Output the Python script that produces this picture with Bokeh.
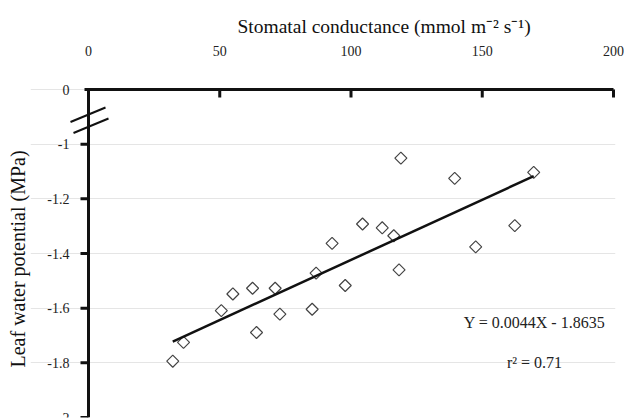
import numpy as np
from bokeh.plotting import figure
from bokeh.models import FixedTicker, Range1d, Label, Title
from bokeh.core.properties import value
from bokeh.embed import file_html
from bokeh.resources import INLINE

# ---- data ----
conductance = [32.1, 36.2, 50.6, 55.0, 62.5, 64.0, 71.1, 72.9, 85.2, 86.7, 92.8,
               97.8, 104.4, 111.9, 116.3, 118.3, 119.0, 139.5, 147.5, 162.4, 169.6]
potential = [-1.794, -1.725, -1.609, -1.548, -1.527, -1.689, -1.527, -1.622, -1.604,
             -1.472, -1.363, -1.517, -1.292, -1.306, -1.335, -1.460, -1.051, -1.125,
             -1.376, -1.298, -1.103]
slope = 0.0044
intercept = -1.8635

x_ticks = [0, 50, 100, 150, 200]
y_ticks = [-2, -1.8, -1.6, -1.4, -1.2, -1, -0.8]
y_tick_labels = ["-2", "-1.8", "-1.6", "-1.4", "-1.2", "-1", "0"]

x_title = "Stomatal conductance (mmol m\u207b\u00b2 s\u207b\u00b9)"
y_title = "Leaf water potential (MPa)"
eq_text = "Y = 0.0044X - 1.8635"
r2_text = "r\u00b2 = 0.71"

# ---- layout (pixels) ----
W, H = 624, 420
FRAME_L, FRAME_R, FRAME_T, FRAME_B = 30, 615, 84, 417
AXIS_X0, AXIS_X1 = 88, 613      # pixel of x = 0 and x = 200
AXIS_YTOP = 89                  # pixel of the top value (-0.8, labelled 0)
X0, X1 = 0, 200
Y0, Y1 = -2, -0.8
ppx = (AXIS_X1 - AXIS_X0) / (X1 - X0)
ppy = (FRAME_B - AXIS_YTOP) / (Y1 - Y0)


def dx(px):
    return X0 + (px - AXIS_X0) / ppx


def dy(py):
    return Y1 - (py - AXIS_YTOP) / ppy


SERIF = "Liberation Serif"
INK = "#111111"

p = figure(width=W, height=H,
           x_range=Range1d(dx(FRAME_L), dx(FRAME_R)),
           y_range=Range1d(dy(FRAME_B), dy(FRAME_T)),
           x_axis_location="above", y_axis_location=None,
           output_backend="svg", toolbar_location=None,
           min_border_left=FRAME_L, min_border_right=W - FRAME_R,
           min_border_top=FRAME_T, min_border_bottom=H - FRAME_B,
           title=x_title)
p.outline_line_color = None
p.xgrid.visible = False
p.background_fill_color = "white"
p.border_fill_color = "white"

p.title.text_font = SERIF
p.title.text_font_size = "19.5px"
p.title.text_font_style = "normal"
p.title.text_color = INK
p.title.align = "left"
p.title.offset = 237 - FRAME_L
p.title.standoff = 12

# top axis: tick labels from the library axis
xa = p.xaxis[0]
xa.ticker = FixedTicker(ticks=x_ticks)
xa.axis_line_color = None
xa.major_tick_line_color = None
xa.minor_tick_line_color = None
xa.major_tick_in = 0
xa.major_tick_out = 0
xa.major_label_standoff = 29
xa.major_label_text_font = SERIF
xa.major_label_text_font_size = "14px"
xa.major_label_text_color = "#222222"

# y title on the left
p.add_layout(Title(text=y_title, align="left", offset=FRAME_B - 367, standoff=3,
                   text_font=SERIF, text_font_size="20px", text_font_style="normal",
                   text_color=INK), "left")

# top axis line and its inward ticks
p.segment(x0=[dx(84)], y0=[Y1], x1=[X1], y1=[Y1], line_color=INK, line_width=3)
p.segment(x0=x_ticks[1:], y0=[Y1] * 4, x1=x_ticks[1:], y1=[dy(AXIS_YTOP + 8)] * 4,
          line_color=INK, line_width=3)

# left axis line with a break between 0 and -1
p.segment(x0=[X0, X0], y0=[Y0, dy(125.6)], x1=[X0, X0], y1=[dy(113.6), dy(AXIS_YTOP - 1.5)],
          line_color=INK, line_width=3)
yt = y_ticks[:-1]
p.segment(x0=[dx(AXIS_X0 - 8)] * len(yt), y0=yt, x1=[X0] * len(yt), y1=yt,
          line_color=INK, line_width=3)
p.text(x=[dx(69)] * len(y_ticks), y=y_ticks, text=y_tick_labels,
       text_font=value(SERIF), text_font_size="14px", text_color="#222222",
       text_align="right", text_baseline="middle")

# break strokes
p.segment(x0=[dx(70), dx(73)], y0=[dy(121.5), dy(132.5)],
          x1=[dx(105), dx(108)], y1=[dy(107), dy(118)],
          line_color=INK, line_width=2)

# scatter points (diamonds)
p.scatter(conductance, potential, marker="square", size=8.5, angle=np.pi / 4,
          fill_color="white", line_color="#444444", line_width=1.2)

# regression line
xs = np.array([min(conductance), max(conductance)])
p.line(xs, slope * xs + intercept, line_color=INK, line_width=2.5)

# equation
p.add_layout(Label(x=dx(534), y=dy(322), text=eq_text, text_font=SERIF,
                   text_font_size="16px", text_align="center",
                   text_baseline="middle", text_color="#222222"))
p.add_layout(Label(x=dx(534), y=dy(362), text=r2_text, text_font=SERIF,
                   text_font_size="16px", text_align="center",
                   text_baseline="middle", text_color="#222222"))

open("out.html", "w").write(file_html(p, INLINE))
